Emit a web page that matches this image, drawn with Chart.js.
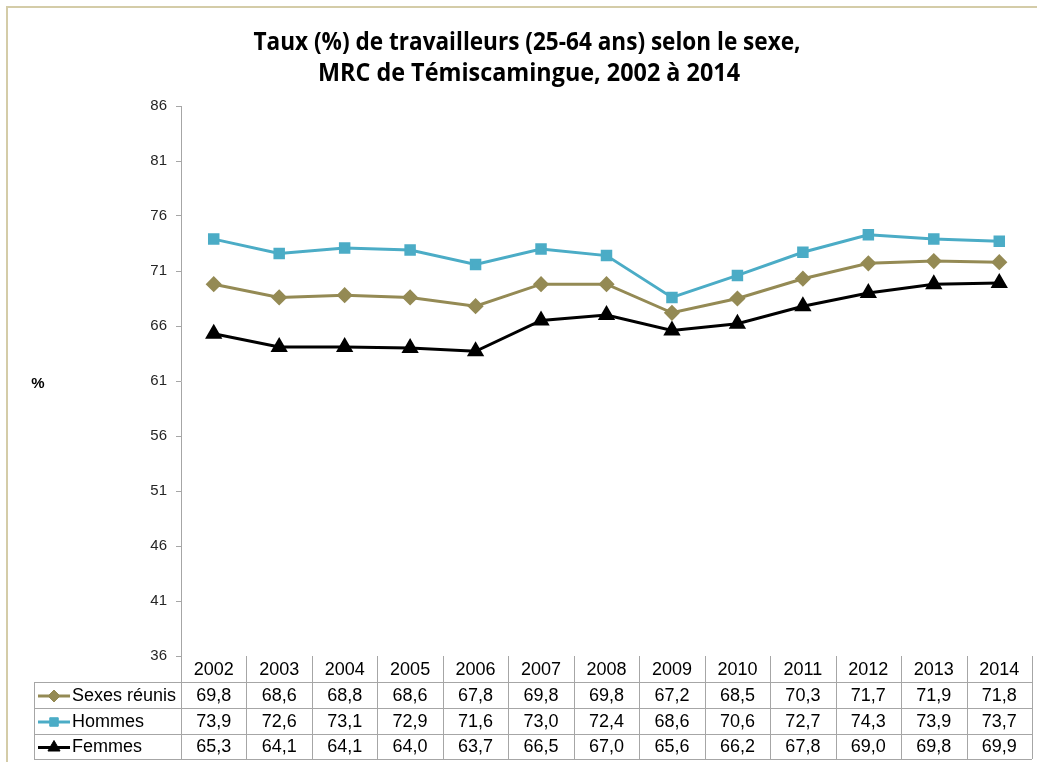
<!DOCTYPE html>
<html>
<head>
<meta charset="utf-8">
<script src="https://cdn.jsdelivr.net/npm/chart.js@4.4.0/dist/chart.umd.min.js"></script>
<style>
body { margin: 0; background: #fff; }
#wrap { width: 1037px; height: 762px; position: relative; }
</style>
</head>
<body>
<div id="wrap"><canvas id="taux-chart"></canvas></div>
<script>
const annees = ['2002', '2003', '2004', '2005', '2006', '2007', '2008', '2009', '2010', '2011', '2012', '2013', '2014']
const sexes_reunis = [69.8, 68.6, 68.8, 68.6, 67.8, 69.8, 69.8, 67.2, 68.5, 70.3, 71.7, 71.9, 71.8]
const hommes = [73.9, 72.6, 73.1, 72.9, 71.6, 73.0, 72.4, 68.6, 70.6, 72.7, 74.3, 73.9, 73.7]
const femmes = [65.3, 64.1, 64.1, 64.0, 63.7, 66.5, 67.0, 65.6, 66.2, 67.8, 69.0, 69.8, 69.9]
const y_min = 36
const y_max = 86
const y_step = 5
const titre = ['Taux (%) de travailleurs (25-64 ans) selon le sexe,', 'MRC de Témiscamingue, 2002 à 2014']

const couleur_grille = '#a6a6a6'

function virgule(v) {
    return v.toFixed(1).replace('.', ',')
}

// texte centré, resserré horizontalement pour tenir dans la largeur voulue
function texte_serre(ctx, txt, cx, y, largeur) {
    const w = ctx.measureText(txt).width
    const k = Math.min(1, largeur / w)
    ctx.save()
    ctx.translate(cx, y)
    ctx.scale(k, 1)
    ctx.fillText(txt, 0, 0)
    ctx.restore()
}

// titre, cadre, "%" et la table de données sous l'axe
const table_plugin = {
    id: 'table_plugin',
    afterDraw(chart) {
        const ctx = chart.ctx
        const x = chart.scales.x
        const area = chart.chartArea
        ctx.save()

        // cadre
        ctx.strokeStyle = '#d4cca8'
        ctx.lineWidth = 2
        ctx.beginPath()
        ctx.moveTo(7, 762)
        ctx.lineTo(7, 7)
        ctx.lineTo(1037, 7)
        ctx.stroke()

        // titre
        ctx.fillStyle = '#000'
        ctx.textAlign = 'center'
        ctx.textBaseline = 'alphabetic'
        ctx.font = 'bold 25px "Open Sans", sans-serif'
        texte_serre(ctx, titre[0], 527, 50, 547)
        texte_serre(ctx, titre[1], 529, 81, 422)

        ctx.font = 'bold 15px "Liberation Sans", Arial, sans-serif'
        ctx.fillText('%', 38, 388)

        // table
        const col_w = (area.right - area.left) / annees.length
        const rows = [area.bottom, 682, 708, 734, 759]
        const left = 34
        ctx.strokeStyle = couleur_grille
        ctx.lineWidth = 1
        ctx.beginPath()
        for (let i = 1; i < rows.length; i++) {
            ctx.moveTo(left, rows[i] + 0.5)
            ctx.lineTo(area.right, rows[i] + 0.5)
        }
        ctx.moveTo(left + 0.5, rows[1])
        ctx.lineTo(left + 0.5, rows[4])
        for (let i = 0; i <= annees.length; i++) {
            const cx = Math.round(area.left + i * col_w) + 0.5
            ctx.moveTo(cx, rows[0])
            ctx.lineTo(cx, rows[4])
        }
        ctx.stroke()

        ctx.font = '18px "Liberation Sans", Arial, sans-serif'
        ctx.textBaseline = 'middle'
        ctx.textAlign = 'center'
        ctx.fillStyle = '#000'
        annees.forEach((a, i) => {
            ctx.fillText(a, x.getPixelForValue(i), (rows[0] + rows[1]) / 2 + 1)
        })
        chart.data.datasets.forEach((ds, r) => {
            const cy = (rows[r + 1] + rows[r + 2]) / 2 + 1
            ds.data.forEach((v, i) => {
                ctx.fillText(virgule(v), x.getPixelForValue(i), cy)
            })
            // clé de légende
            ctx.strokeStyle = ds.borderColor
            ctx.lineWidth = 3
            ctx.beginPath()
            ctx.moveTo(38, cy)
            ctx.lineTo(70, cy)
            ctx.stroke()
            ctx.fillStyle = ds.pointBackgroundColor
            ctx.strokeStyle = ds.pointBorderColor
            ctx.lineWidth = 1
            Chart.helpers.drawPoint(ctx, { pointStyle: ds.pointStyle, radius: ds.pointRadius, rotation: 0, borderWidth: 1 }, 54, cy)
            ctx.fillStyle = '#000'
            ctx.textAlign = 'left'
            ctx.fillText(ds.label, 72, cy)
            ctx.textAlign = 'center'
        })
        ctx.restore()
    }
}

let data = {
    labels: annees,
    datasets: [
        {
            label: 'Sexes réunis',
            data: sexes_reunis,
            borderColor: '#948a54',
            backgroundColor: '#948a54',
            pointBackgroundColor: '#948a54',
            pointBorderColor: '#948a54',
            pointStyle: 'rectRot',
            pointRadius: 6,
            borderWidth: 3,
        },
        {
            label: 'Hommes',
            data: hommes,
            borderColor: '#4bacc6',
            backgroundColor: '#4bacc6',
            pointBackgroundColor: '#4bacc6',
            pointBorderColor: '#4bacc6',
            pointStyle: 'rect',
            pointRadius: 6,
            borderWidth: 3,
        },
        {
            label: 'Femmes',
            data: femmes,
            borderColor: '#000000',
            backgroundColor: '#000000',
            pointBackgroundColor: '#000000',
            pointBorderColor: '#000000',
            pointStyle: 'triangle',
            pointRadius: 7,
            borderWidth: 3,
        }
    ]
}

let options = {
    responsive: true,
    maintainAspectRatio: false,
    animation: false,
    layout: { autoPadding: false, padding: { top: 106, bottom: 106, left: 0, right: 5 } },
    plugins: {
        legend: { display: false },
        tooltip: { enabled: false },
        title: { display: false }
    },
    scales: {
        x: {
            display: false,
            offset: true
        },
        y: {
            min: y_min,
            max: y_max,
            afterFit: s => { s.width = 181 },
            border: { color: couleur_grille },
            grid: { drawOnChartArea: false, tickLength: 5, color: couleur_grille },
            ticks: {
                stepSize: y_step,
                padding: 9,
                color: '#262626',
                font: { family: '"Liberation Sans", Arial, sans-serif', size: 15 }
            }
        }
    }
}

let my_chart = new Chart(document.getElementById('taux-chart'), {
    type: 'line',
    data: data,
    options: options,
    plugins: [table_plugin]
})
</script>
</body>
</html>
